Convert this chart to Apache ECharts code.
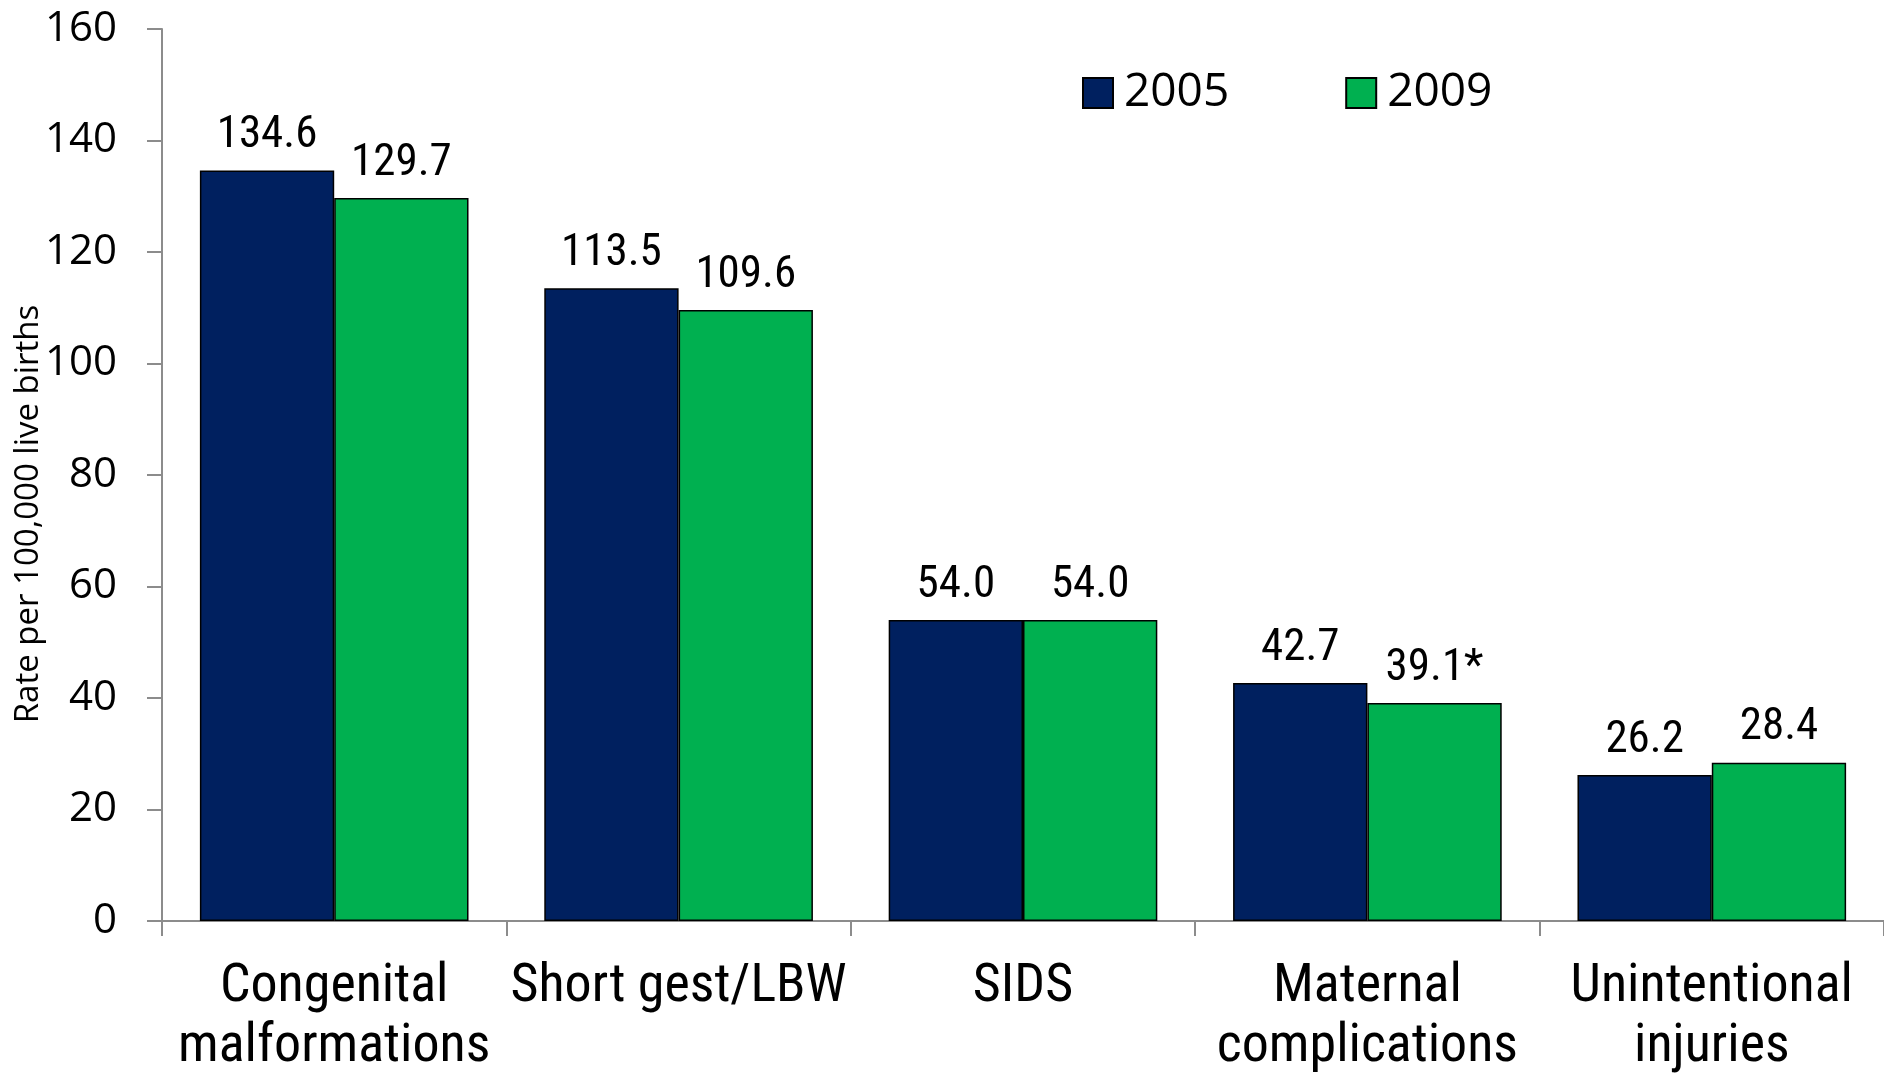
<!DOCTYPE html>
<html>
  <head>
    <meta charset="utf-8" />
    <style>
      html, body {margin: 0; padding: 0; background: #fff;}
      #chart {width: 1884px; height: 1074px;}
    </style>
    <script src="https://cdn.jsdelivr.net/npm/echarts@6.0.0/dist/echarts.min.js"></script>
  </head>
  <body>
    <div id="chart"></div>
    <script type="text/javascript">
      var categories = ['Congenital\nmalformations', 'Short gest/LBW', 'SIDS',
                        'Maternal\ncomplications', 'Unintentional\ninjuries'];
      var rate2005 = [134.6, 113.5, 54.0, 42.7, 26.2];
      var rate2009 = [129.7, 109.6, 54.0, 39.1, 28.4];
      // significant change marked with an asterisk
      var sig2009 = [false, false, false, true, false];
      var yTicks = {min: 0, max: 160, step: 20};

      var narrow = 'Roboto Condensed';
      var plain = 'Open Sans';

      var chart = echarts.init(document.getElementById('chart'));

      var option = {
        animation: false,
        grid: {left: 162, right: 0, top: 29, bottom: 153, outerBoundsMode: 'none', containLabel: false},
        legend: {
          data: ['2005', '2009'],
          left: 1077,
          top: 65,
          itemWidth: 30,
          itemHeight: 30,
          itemGap: 116,
          icon: 'rect',
          textStyle: {fontFamily: plain, fontSize: 46, color: '#000', padding: [0, 0, 0, 6]}
        },
        xAxis: {
          type: 'category',
          data: categories,
          axisLine: {lineStyle: {color: '#8c8c8c', width: 2}},
          axisTick: {show: true, length: 15, lineStyle: {color: '#8c8c8c', width: 2}},
          axisLabel: {
            fontFamily: narrow, fontSize: 54, color: '#000',
            lineHeight: 60, margin: 36, interval: 0
          }
        },
        yAxis: {
          type: 'value',
          min: yTicks.min,
          max: yTicks.max,
          interval: yTicks.step,
          name: 'Rate per 100,000 live births',
          nameLocation: 'middle',
          nameGap: 117,
          nameMoveOverlap: false,
          nameTextStyle: {fontFamily: plain, fontSize: 33, color: '#000', padding: [0, 78, 0, 0]},
          splitLine: {show: false},
          axisLine: {show: true, lineStyle: {color: '#8c8c8c', width: 2}},
          axisTick: {show: true, length: 15, lineStyle: {color: '#8c8c8c', width: 2}},
          axisLabel: {fontFamily: plain, fontSize: 42, color: '#000', margin: 45}
        },
        series: [
          {
            name: '2005',
            type: 'bar',
            data: rate2005,
            barGap: 0,
            barCategoryGap: '22%',
            itemStyle: {color: '#00205f', borderColor: '#000', borderWidth: 1.5},
            label: {
              show: true, position: 'top', distance: 12,
              fontFamily: narrow, fontSize: 45, color: '#000',
              formatter: function (p) { return p.value.toFixed(1); }
            }
          },
          {
            name: '2009',
            type: 'bar',
            data: rate2009,
            barGap: 0,
            barCategoryGap: '22%',
            itemStyle: {color: '#00b050', borderColor: '#000', borderWidth: 1.5},
            label: {
              show: true, position: 'top', distance: 12,
              fontFamily: narrow, fontSize: 45, color: '#000',
              formatter: function (p) {
                return p.value.toFixed(1) + (sig2009[p.dataIndex] ? '*' : '');
              }
            }
          }
        ]
      };

      chart.setOption(option);
    </script>
  </body>
</html>
